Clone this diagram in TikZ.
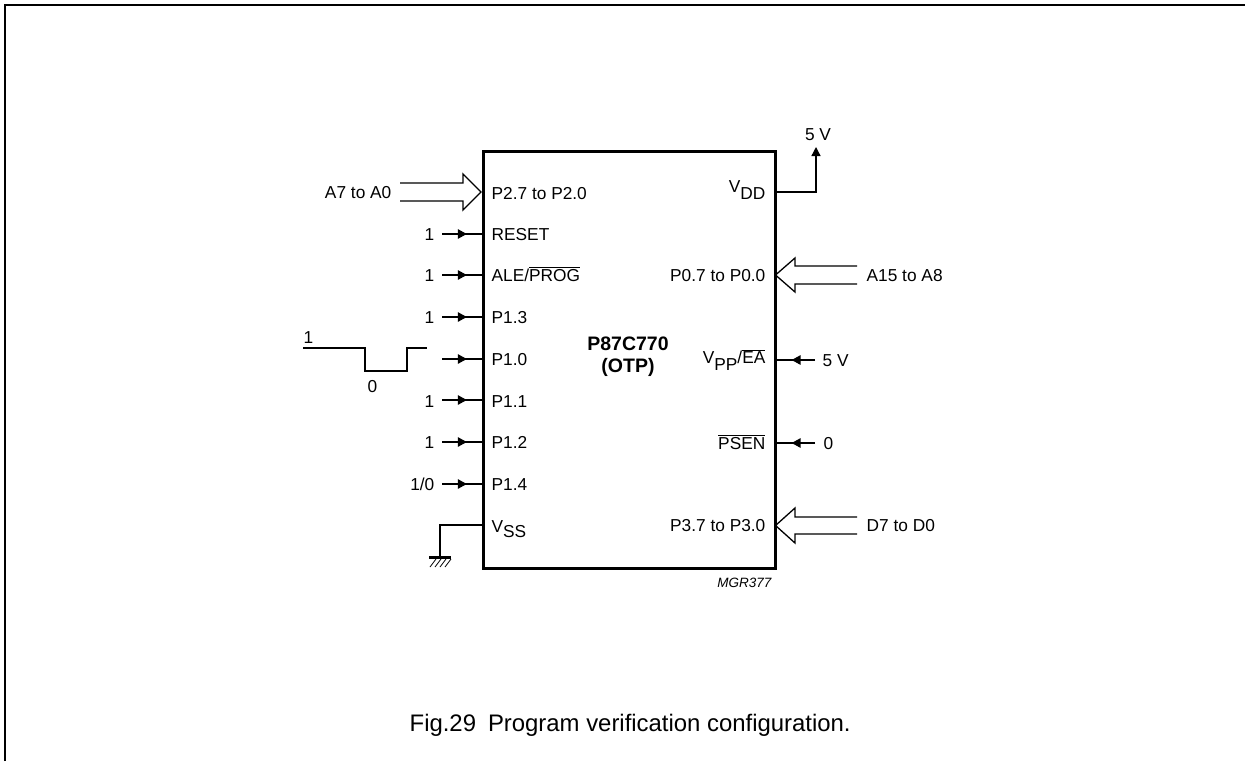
\documentclass[tikz,border=0pt]{standalone}
\usepackage{fontspec}
\setmainfont{Liberation Sans}
\usetikzlibrary{arrows.meta,decorations.markings}
\begin{document}
\begin{tikzpicture}[x=1pt,y=-1pt,line width=1.3pt,
  lab/.style={font=\fontsize{17.3}{20}\selectfont, inner sep=0pt},
  endtip/.style={-{Triangle[length=9pt,width=9pt]}},
  midtip/.style={postaction={decorate},decoration={markings,
     mark=at position #1 with {\arrow{Triangle[length=9pt,width=9.5pt]}}}},
  bus/.style={line width=1.3pt, line join=miter}]
\useasboundingbox (0,0) rectangle (1245,761);
% frame
\draw[line width=2pt] (5,761) -- (5,5) -- (1245,5);
% chip
\node[draw, line width=2.6pt, minimum width=292pt, minimum height=417pt,
      inner sep=0pt, anchor=north west] (chip) at (482,150) {};
\node[font=\bfseries\fontsize{19.5}{22}\selectfont, align=center, inner sep=0pt]
      (name) at (628,357) {P87C770\\(OTP)};
% left pin labels
\node[lab, anchor=base west] (lP2) at (491,199) {P2.7 to P2.0};
\node[lab, anchor=base west] (lRST) at (491,240) {RESET};
\node[lab, anchor=base west] (lALE) at (491,281) {ALE/$\overline{\hbox{PROG}}$};
\node[lab, anchor=base west] (l13) at (491,323) {P1.3};
\node[lab, anchor=base west] (l10) at (491,365) {P1.0};
\node[lab, anchor=base west] (l11) at (491,407) {P1.1};
\node[lab, anchor=base west] (l12) at (491,448) {P1.2};
\node[lab, anchor=base west] (l14) at (491,490) {P1.4};
\node[lab, anchor=base west] (lVSS) at (491,532) {V\raisebox{-5.5pt}{SS}};
% right pin labels
\node[lab, anchor=base east] (lVDD) at (766,192) {V\raisebox{-7.5pt}{DD}};
\node[lab, anchor=base east] (lP0) at (766,281) {P0.7 to P0.0};
\node[lab, anchor=base east] (lVPP) at (766,363) {V\raisebox{-7pt}{PP}/$\overline{\hbox{EA}}$};
\node[lab, anchor=base east] (lPSEN) at (766,449) {$\overline{\hbox{PSEN}}$};
\node[lab, anchor=base east] (lP3) at (766,531) {P3.7 to P3.0};
% pin coordinates on chip
\coordinate (pRST) at (482,234);
\coordinate (pALE) at (482,275);
\coordinate (p13) at (482,317);
\coordinate (p10) at (482,359);
\coordinate (p11) at (482,400);
\coordinate (p12) at (482,442);
\coordinate (p14) at (482,484);
\coordinate (pVSS) at (482,525);
\coordinate (pVDD) at (774,192);
\coordinate (pVPP) at (774,360);
\coordinate (pPSEN) at (774,443);
% input values
\node[lab, anchor=base east] (iRST) at (435,240) {1};
\node[lab, anchor=base east] (iALE) at (435,281) {1};
\node[lab, anchor=base east] (i13) at (435,323) {1};
\node[lab, anchor=base east] (i11) at (435,407) {1};
\node[lab, anchor=base east] (i12) at (435,448) {1};
\node[lab, anchor=base east] (i14) at (435,490) {1/0};
\coordinate (sRST) at (442,234);
\coordinate (sALE) at (442,275);
\coordinate (s13) at (442,317);
\coordinate (s10) at (442,359);
\coordinate (s11) at (442,400);
\coordinate (s12) at (442,442);
\coordinate (s14) at (442,484);
\foreach \n in {RST,ALE,13,10,11,12,14}
  \draw[midtip=0.62] (s\n) -- (p\n);
% waveform
\coordinate (w0) at (303,348);
\coordinate (w1) at (365,348);
\coordinate (w2) at (365,371);
\coordinate (w3) at (407,371);
\coordinate (w4) at (407,348);
\coordinate (w5) at (427,348);
\draw (w0) -- (w1) -- (w2) -- (w3) -- (w4) -- (w5);
\node[lab, anchor=base west] (wHi) at (303,343) {1};
\node[lab, anchor=base] (wLo) at (372.5,392) {0};
% bus arrows
\draw[bus] (400,183) -- (463,183) -- (463,174) -- (481,192) -- (463,210) -- (463,201) -- (400,201);
\node[lab, anchor=base east] (A7) at (392,198) {A7 to A0};
\draw[bus] (857,266) -- (795,266) -- (795,258) -- (775.5,275) -- (795,292) -- (795,284) -- (857,284);
\node[lab, anchor=base west] (A15) at (866,281) {A15 to A8};
\draw[bus] (857,517) -- (795,517) -- (795,508) -- (775.5,525.5) -- (795,543) -- (795,534) -- (857,534);
\node[lab, anchor=base west] (D7) at (866,531) {D7 to D0};
% VDD
\coordinate (vddC) at (816,192);
\coordinate (vddT) at (816,147);
\draw[endtip] (pVDD) -- (vddC) -- (vddT);
\node[lab, anchor=base] (v5a) at (818,140.5) {5 V};
% VPP
\coordinate (vppS) at (815,360);
\draw[midtip=0.57] (vppS) -- (pVPP);
\node[lab, anchor=base west] (v5b) at (822,366) {5 V};
% PSEN
\coordinate (psenS) at (815,443);
\draw[midtip=0.57] (psenS) -- (pPSEN);
\node[lab, anchor=base west] (z0) at (823,449) {0};
% VSS / ground
\coordinate (gC) at (440,525);
\coordinate (gB) at (440,557);
\draw (pVSS) -- (gC) -- (gB);
\draw[line width=3pt] (429,557) -- (451,557);
\foreach \x in {430,435,440,445}
  \draw[line width=0.8pt] (\x,567) -- (\x+6,559);
% code and caption
\node[font=\itshape\fontsize{13.5}{15}\selectfont, anchor=base east, inner sep=0pt] (mgr) at (772,587) {MGR377};
\node[font=\fontsize{23.9}{27}\selectfont, anchor=base west, inner sep=0pt] (cap) at (409,731.5) {Fig.29\hspace{0.5em}Program verification configuration.};
\end{tikzpicture}
\end{document}
